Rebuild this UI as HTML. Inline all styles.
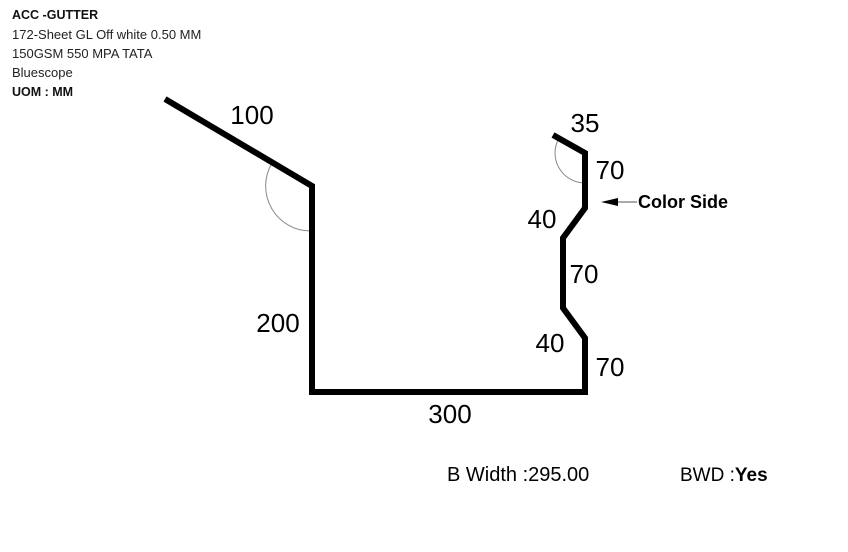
<!DOCTYPE html>
<html><head><meta charset="utf-8"><style>
html,body{margin:0;padding:0;background:#fff;}
body{width:848px;height:552px;position:relative;overflow:hidden;font-family:"Liberation Sans",sans-serif;}
.hdr{position:absolute;left:12px;top:5px;font-size:13px;line-height:19px;color:#222;}
.hdr b{color:#111;font-size:12.5px;}
svg{position:absolute;left:0;top:0;}
</style></head><body>
<div class="hdr">
<b>ACC -GUTTER</b><br>
<span>172-Sheet GL Off white 0.50 MM</span><br>
<span>150GSM 550 MPA TATA</span><br>
<span>Bluescope</span><br>
<b>UOM : MM</b>
</div>
<svg width="848" height="552">
<path d="M272,163 A45,45 0 0 0 312,231" fill="none" stroke="#888" stroke-width="1"/>
<path d="M558,140 A30,30 0 0 0 584,183" fill="none" stroke="#888" stroke-width="1"/>
<polyline points="165,99 312,186 312,392 585,392 585,338 563,308 563,238 585,208 585,153 553,135" fill="none" stroke="#000" stroke-width="6" stroke-linejoin="miter"/>
<line x1="615" y1="202" x2="637" y2="202" stroke="#555" stroke-width="1"/>
<polygon points="601,202 618,198 618,206" fill="#000"/>
<g font-family="Liberation Sans, sans-serif" font-size="26" fill="#000" text-anchor="middle">
<text x="252" y="124">100</text>
<text x="278" y="332">200</text>
<text x="450" y="423">300</text>
<text x="585" y="132">35</text>
<text x="610" y="179">70</text>
<text x="542" y="228">40</text>
<text x="584" y="283">70</text>
<text x="550" y="352">40</text>
<text x="610" y="376">70</text>
</g>
<text x="638" y="208" font-family="Liberation Sans, sans-serif" font-size="18" font-weight="bold">Color Side</text>
<text x="447" y="481" font-family="Liberation Sans, sans-serif" font-size="20">B Width :295.00</text>
<text x="680" y="481" font-family="Liberation Sans, sans-serif" font-size="19">BWD :<tspan font-weight="bold">Yes</tspan></text>
</svg>
</body></html>
